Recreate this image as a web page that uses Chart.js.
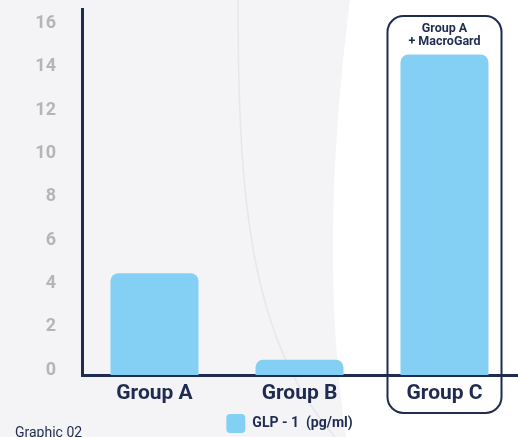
<!DOCTYPE html>
<html lang="en">
<head>
    <meta charset="UTF-8">
    <title>GLP-1 by group</title>
    <style>
        body {
            margin: 0;
            padding: 0;
            background: #f4f4f7;
        }

        #wrap {
            width: 518px;
            height: 437px;
        }
    </style>
    <script src="https://cdn.jsdelivr.net/npm/chart.js"></script>
</head>
<body>
    <div id="wrap">
        <canvas id="glpChart" width="518" height="437"></canvas>
    </div>
    <script>
        const categories = ['Group A', 'Group B', 'Group C'];
        const glpValues = [4.7, 0.7, 14.8];
        const yTickValues = [0, 2, 4, 6, 8, 10, 12, 14, 16];
        const seriesLabel = 'GLP - 1  (pg/ml)';
        const highlightLines = ['Group A', '+ MacroGard'];
        const footnote = 'Graphic 02';

        const navy = '#1f2b50';
        const barBlue = '#84cff4';
        const fontName = 'Roboto, "Open Sans", sans-serif';

        // light page background, white swoosh on the right and a thin arc
        const backdrop = {
            id: 'backdrop',
            beforeDraw(chart) {
                const ctx = chart.ctx;
                ctx.save();
                ctx.fillStyle = '#f4f4f7';
                ctx.fillRect(0, 0, chart.width, chart.height);

                ctx.fillStyle = '#ffffff';
                ctx.beginPath();
                ctx.moveTo(350, 0);
                ctx.quadraticCurveTo(318, 250, 346, chart.height);
                ctx.lineTo(chart.width, chart.height);
                ctx.lineTo(chart.width, 0);
                ctx.closePath();
                ctx.fill();

                ctx.strokeStyle = '#e6e6eb';
                ctx.lineWidth = 1.5;
                ctx.beginPath();
                ctx.moveTo(238, 0);
                ctx.bezierCurveTo(238, 200, 250, 340, 335, chart.height);
                ctx.stroke();
                ctx.restore();
            }
        };

        // nudge the legend a little left, like the original
        const legendShift = {
            id: 'legendShift',
            afterLayout(chart) {
                chart.legend.left -= 10;
                chart.legend.right -= 10;
            }
        };

        // rounded frame around the last group plus its caption
        const highlight = {
            id: 'highlight',
            afterDraw(chart) {
                const ctx = chart.ctx;
                const bar = chart.getDatasetMeta(0).data[2];
                const half = bar.width / 2 + 13;
                const left = bar.x - half;
                const right = bar.x + half;
                const top = 16;
                const bottom = 413;
                const r = 16;

                ctx.save();
                ctx.strokeStyle = navy;
                ctx.lineWidth = 2;
                ctx.beginPath();
                ctx.moveTo(left + r, top);
                ctx.arcTo(right, top, right, bottom, r);
                ctx.arcTo(right, bottom, left, bottom, r);
                ctx.arcTo(left, bottom, left, top, r);
                ctx.arcTo(left, top, right, top, r);
                ctx.closePath();
                ctx.stroke();

                ctx.fillStyle = navy;
                ctx.font = 'bold 12.5px ' + fontName;
                ctx.textAlign = 'center';
                ctx.textBaseline = 'middle';
                ctx.fillText(highlightLines[0], bar.x, 29);
                ctx.fillText(highlightLines[1], bar.x, 42);

                ctx.textAlign = 'left';
                ctx.textBaseline = 'alphabetic';
                ctx.font = '14px ' + fontName;
                ctx.fillText(footnote, 15, 437);
                ctx.restore();
            }
        };

        new Chart(document.getElementById('glpChart'), {
            type: 'bar',
            data: {
                labels: categories,
                datasets: [{
                    label: seriesLabel,
                    data: glpValues,
                    backgroundColor: barBlue,
                    borderWidth: 0,
                    borderRadius: 8,
                    borderSkipped: 'start',
                    barPercentage: 0.607,
                    categoryPercentage: 1
                }]
            },
            options: {
                responsive: false,
                animation: false,
                layout: {
                    padding: { top: 9, right: 1, bottom: 0, left: 0 }
                },
                plugins: {
                    tooltip: { enabled: false },
                    legend: {
                        position: 'bottom',
                        fullSize: false,
                        maxHeight: 34,
                        labels: {
                            boxWidth: 19,
                            boxHeight: 19,
                            padding: 11,
                            useBorderRadius: true,
                            borderRadius: 4,
                            color: navy,
                            font: { family: fontName, size: 14, weight: 'bold' }
                        }
                    }
                },
                scales: {
                    x: {
                        z: 1,
                        grid: { display: false, drawTicks: false },
                        border: { color: navy, width: 3 },
                        ticks: {
                            color: navy,
                            padding: 6,
                            font: { family: fontName, size: 21, weight: 'bold' }
                        },
                        afterFit(scale) {
                            scale.height = 28;
                        }
                    },
                    y: {
                        z: 1,
                        min: 0,
                        max: 16.9,
                        grid: { display: false, drawTicks: false },
                        border: { color: navy, width: 3 },
                        ticks: {
                            color: '#b5b5b5',
                            padding: 26,
                            labelOffset: -5,
                            font: { family: fontName, size: 18, weight: 'bold' }
                        },
                        afterBuildTicks(scale) {
                            scale.ticks = yTickValues.map(v => ({ value: v }));
                        },
                        afterFit(scale) {
                            scale.width = 82;
                            scale.paddingTop = 0;
                            scale.paddingBottom = 0;
                        }
                    }
                }
            },
            plugins: [backdrop, legendShift, highlight]
        });
    </script>
</body>
</html>
